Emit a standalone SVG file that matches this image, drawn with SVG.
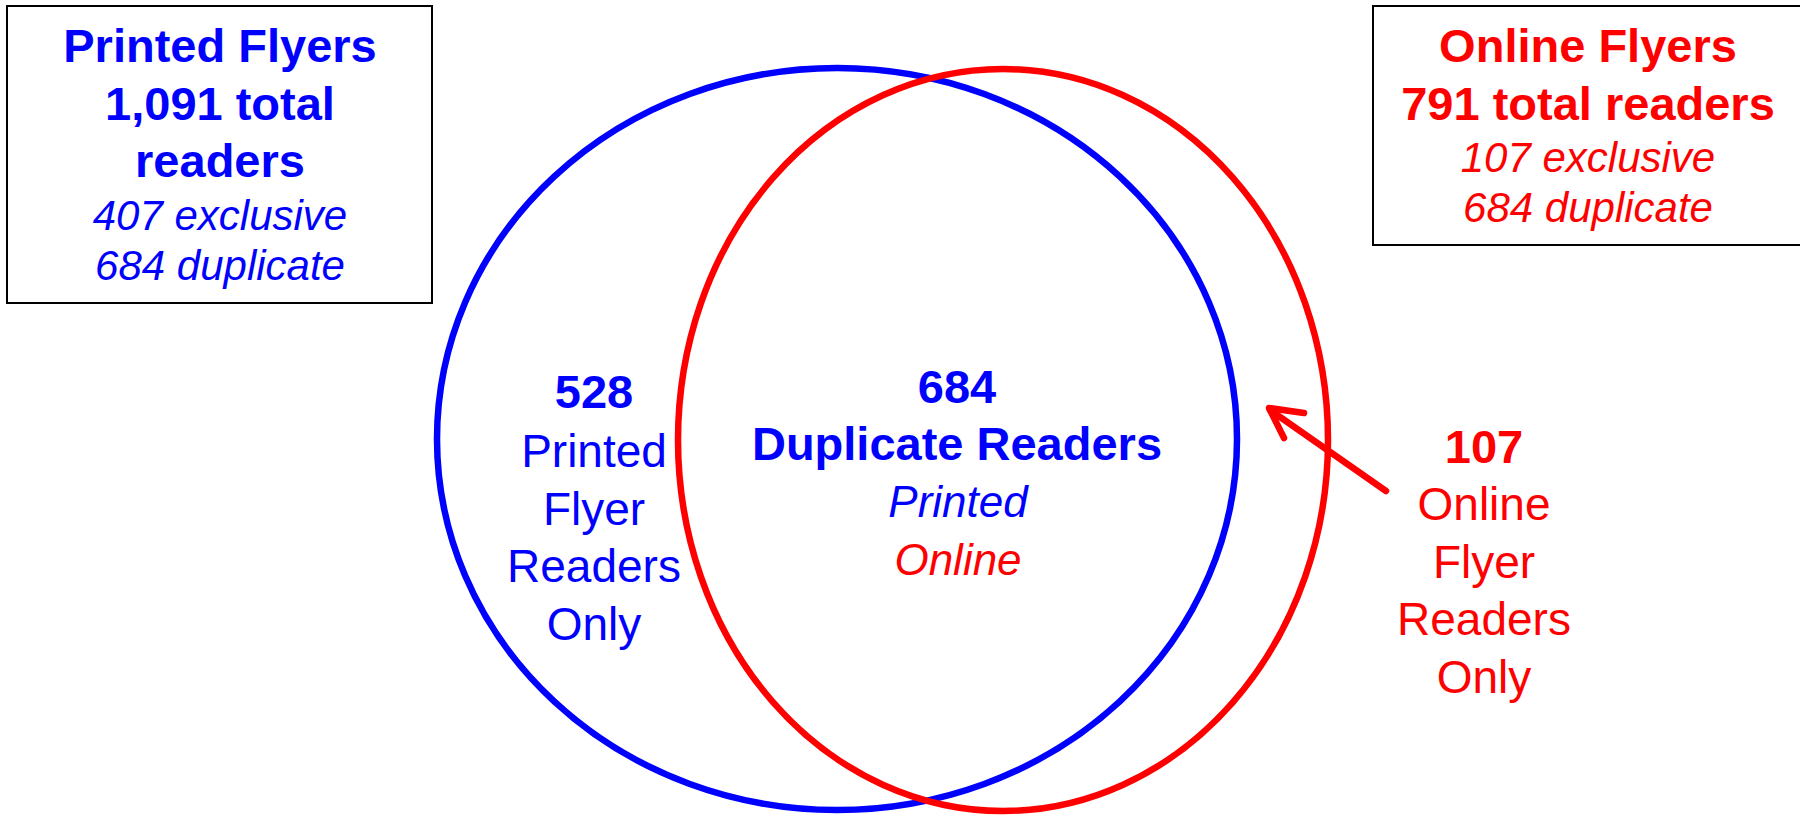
<svg xmlns="http://www.w3.org/2000/svg" width="1800" height="816" viewBox="0 0 1800 816">
<style>
text{font-family:"Liberation Sans",Arial,sans-serif;text-anchor:middle}
.b{font-weight:bold;font-size:47px}
.i{font-style:italic;font-size:42px}
.r{font-size:46px}
.blue{fill:#0000FF}
.red{fill:#FF0000}
.box{fill:#fff;stroke:#000;stroke-width:2}
.ring{fill:none;stroke-width:6.5}
</style>
<rect width="1800" height="816" fill="#fff"/>
<g id="printed-box">
<rect class="box" x="7" y="6" width="425" height="297"/>
<text class="b blue" x="220" y="62">Printed Flyers</text>
<text class="b blue" x="220" y="120">1,091 total</text>
<text class="b blue" x="220" y="177">readers</text>
<text class="i blue" x="220" y="230">407 exclusive</text>
<text class="i blue" x="220" y="280">684 duplicate</text>
</g>
<g id="online-box">
<rect class="box" x="1373" y="6" width="440" height="239"/>
<text class="b red" x="1588" y="62">Online Flyers</text>
<text class="b red" x="1588" y="120">791 total readers</text>
<text class="i red" x="1588" y="172">107 exclusive</text>
<text class="i red" x="1588" y="222">684 duplicate</text>
</g>
<g id="printed-circle">
<ellipse class="ring" cx="837" cy="439" rx="400" ry="371" stroke="#0000FF"/>
</g>
<g id="online-circle">
<ellipse class="ring" cx="1003" cy="440" rx="325" ry="371" stroke="#FF0000"/>
</g>
<g id="printed-only">
<text class="b blue" x="594" y="408">528</text>
<text class="r blue" x="594" y="467">Printed</text>
<text class="r blue" x="594" y="525">Flyer</text>
<text class="r blue" x="594" y="582">Readers</text>
<text class="r blue" x="594" y="640">Only</text>
</g>
<g id="duplicate">
<text class="b blue" x="957" y="403">684</text>
<text class="b blue" x="957" y="460">Duplicate Readers</text>
<text class="i blue" x="958" y="517" style="font-size:44px">Printed</text>
<text class="i red" x="958" y="575" style="font-size:44px">Online</text>
</g>
<g id="online-only">
<text class="b red" x="1484" y="463">107</text>
<text class="r red" x="1484" y="520">Online</text>
<text class="r red" x="1484" y="578">Flyer</text>
<text class="r red" x="1484" y="635">Readers</text>
<text class="r red" x="1484" y="693">Only</text>
</g>
<g id="connectors" fill="none" stroke="#FF0000" stroke-width="6.5" stroke-linecap="round" stroke-linejoin="round">
<path d="M1386,491 L1270,410"/>
<path d="M1304,413 L1269,408 L1284,438"/>
</g>
</svg>
